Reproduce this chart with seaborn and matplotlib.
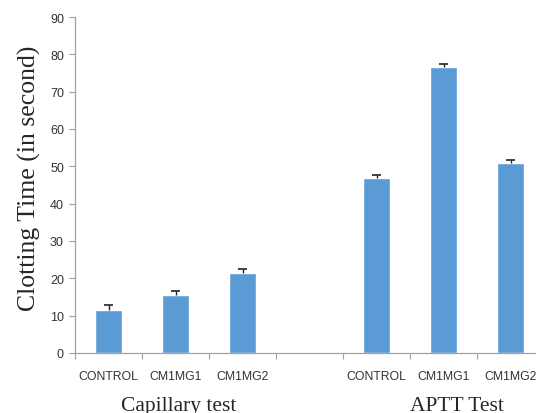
import matplotlib
matplotlib.use("Agg")
import matplotlib.pyplot as plt
import seaborn as sns
import numpy as np
import pandas as pd

groups = ["Capillary test", "APTT Test"]
treatments = ["CONTROL", "CM1MG1", "CM1MG2"]
capillary_time = [11.4, 15.6, 21.4]
capillary_err = [1.4, 0.9, 1.1]
aptt_time = [47.0, 76.6, 51.0]
aptt_err = [0.8, 0.9, 0.8]

slots = [f"cap_{t}" for t in treatments] + ["gap"] + [f"aptt_{t}" for t in treatments]
df = pd.DataFrame({
    "slot": [f"cap_{t}" for t in treatments] + [f"aptt_{t}" for t in treatments],
    "time": capillary_time + aptt_time,
    "err": capillary_err + aptt_err,
})

sns.set_style("white")
fig = plt.figure(figsize=(5.36, 4.14), dpi=100)
ax = fig.add_axes([0.14, 0.145, 0.875, 0.8115])

sns.barplot(data=df, x="slot", y="time", order=slots, color="#5B9BD5",
            saturation=1, width=0.39, errorbar=None, ax=ax)

# one-sided (upper) error bars
xpos = np.array([slots.index(s) for s in df["slot"]])
top = df["time"] + df["err"]
ax.vlines(xpos, df["time"], top, color="#222222", lw=1.0, zorder=3)
ax.hlines(top, xpos - 0.07, xpos + 0.07, color="#222222", lw=1.2, zorder=3)

ax.set_ylim(0, 90)
ax.set_yticks(np.arange(0, 91, 10))
ax.set_xlim(-0.5, len(slots) - 0.5)

# tick marks at category boundaries, labels at centres
ax.set_xticks(np.arange(-0.5, len(slots), 1.0))
ax.set_xticklabels([])
ax.set_xticks(np.arange(len(slots)), minor=True)
ax.set_xticklabels(treatments + [""] + treatments, minor=True, family="Liberation Sans")
ax.tick_params(axis="x", which="major", bottom=True, length=4, color="#a0a0a0", direction="out")
ax.tick_params(axis="x", which="minor", bottom=True, length=0, pad=12, labelsize=8.8,
               labelcolor="#333333")
ax.tick_params(axis="y", length=4, color="#a0a0a0", direction="out", left=True,
               labelsize=9, labelcolor="#333333", pad=4)
for lab in ax.get_yticklabels():
    lab.set_family("Liberation Sans")

for side in ["top", "right"]:
    ax.spines[side].set_visible(False)
for side in ["left", "bottom"]:
    ax.spines[side].set_color("#a0a0a0")
    ax.spines[side].set_linewidth(0.9)

ax.set_xlabel("")
ax.set_ylabel("Clotting Time (in second)", family="Liberation Serif", fontsize=18.5)
ax.yaxis.set_label_coords(-0.072, 0.524)

for g, center in zip(groups, [1.05, 5.2]):
    ax.text(center, -0.155, g, transform=ax.get_xaxis_transform(), ha="center", va="center",
            family="Liberation Serif", fontsize=15.5)

fig.savefig("out.png", dpi=100)
